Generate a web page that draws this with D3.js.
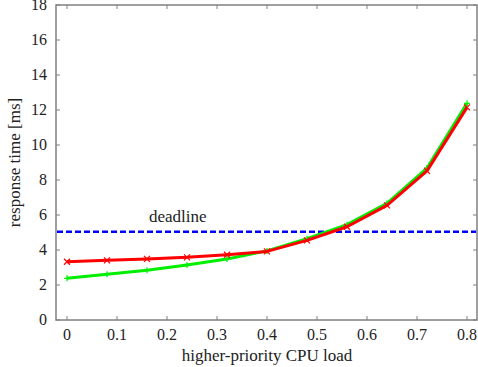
<!DOCTYPE html>
<html><head><meta charset="utf-8">
<script src="https://cdn.jsdelivr.net/npm/d3@7"></script>
<style>body{margin:0;background:#fff}svg{display:block}</style>
</head><body>
<svg id="c" width="478" height="367" fill="#222"></svg>
<script>
const loads = [0, 0.08, 0.16, 0.24, 0.32, 0.40, 0.48, 0.56, 0.64, 0.72, 0.80];
const greenSeries = [2.38, 2.61, 2.84, 3.14, 3.49, 3.95, 4.65, 5.45, 6.67, 8.68, 12.38];
const redSeries = [3.33, 3.41, 3.49, 3.58, 3.73, 3.92, 4.55, 5.33, 6.55, 8.52, 12.15];
const deadline = 5.05;
const xTicks = [0, 0.1, 0.2, 0.3, 0.4, 0.5, 0.6, 0.7, 0.8];
const yTicks = [0, 2, 4, 6, 8, 10, 12, 14, 16, 18];

const svg = d3.select("#c");
const FF = "Liberation Serif";
const L = 56, R = 477, T = 5, B = 320;
const x = d3.scaleLinear().domain([-0.02, 0.82]).range([L + 1, R]);
const y = d3.scaleLinear().domain([0, 18]).range([B, T]);
const axisCol = "#808080";

svg.append("rect").attr("x", L).attr("y", T).attr("width", R - L).attr("height", B - T)
  .attr("fill", "none").attr("stroke", axisCol).attr("stroke-width", 1.5);

const tk = 4;
xTicks.forEach(v => {
  svg.append("line").attr("x1", x(v)).attr("x2", x(v)).attr("y1", B).attr("y2", B - tk).attr("stroke", axisCol);
  svg.append("line").attr("x1", x(v)).attr("x2", x(v)).attr("y1", T).attr("y2", T + tk).attr("stroke", axisCol);
  svg.append("text").attr("font-family", FF).attr("x", x(v)).attr("y", 340).attr("text-anchor", "middle").attr("font-size", 16).text(v === 0 ? "0" : v.toFixed(1));
});
yTicks.forEach(v => {
  svg.append("line").attr("x1", L).attr("x2", L + tk).attr("y1", y(v)).attr("y2", y(v)).attr("stroke", axisCol);
  svg.append("line").attr("x1", R).attr("x2", R - tk).attr("y1", y(v)).attr("y2", y(v)).attr("stroke", axisCol);
  svg.append("text").attr("font-family", FF).attr("x", 47).attr("y", y(v) + 5).attr("text-anchor", "end").attr("font-size", 16).text(v);
});

svg.append("text").attr("font-family", FF).attr("x", 267).attr("y", 361).attr("text-anchor", "middle").attr("font-size", 17).text("higher-priority CPU load");
svg.append("text").attr("font-family", FF).attr("transform", "translate(20," + ((T + B) / 2) + ") rotate(-90)").attr("text-anchor", "middle").attr("font-size", 17).text("response time [ms]");

svg.append("line").attr("x1", L + 1).attr("x2", R - 1).attr("y1", y(deadline)).attr("y2", y(deadline))
  .attr("stroke", "#0000ff").attr("stroke-width", 2.5).attr("stroke-dasharray", "6,3");
svg.append("text").attr("font-family", FF).attr("x", 149).attr("y", 222).attr("font-size", 17).text("deadline");

const line = d3.line().x(d => x(d[0])).y(d => y(d[1]));
function series(vals, col, marker) {
  const pts = loads.map((l, i) => [l, vals[i]]);
  svg.append("path").datum(pts).attr("d", line).attr("fill", "none").attr("stroke", col).attr("stroke-width", 3).attr("stroke-linejoin", "round");
  const s = 3;
  pts.forEach(p => {
    const cx = x(p[0]), cy = y(p[1]);
    const g = svg.append("g").attr("stroke", col).attr("stroke-width", 1.2);
    if (marker === "x") {
      g.append("line").attr("x1", cx - s).attr("y1", cy - s).attr("x2", cx + s).attr("y2", cy + s);
      g.append("line").attr("x1", cx - s).attr("y1", cy + s).attr("x2", cx + s).attr("y2", cy - s);
    } else {
      g.append("line").attr("x1", cx - s).attr("y1", cy).attr("x2", cx + s).attr("y2", cy);
      g.append("line").attr("x1", cx).attr("y1", cy - s).attr("x2", cx).attr("y2", cy + s);
    }
  });
}
series(greenSeries, "#00ee00", "+");
series(redSeries, "#ff0000", "x");
</script>
</body></html>
